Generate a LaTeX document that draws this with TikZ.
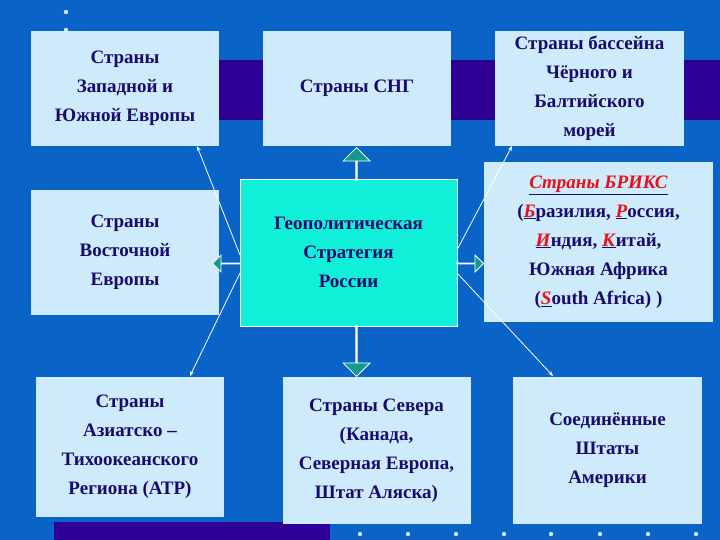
\documentclass[tikz,border=0pt]{standalone}
\usepackage{fontspec}
\setmainfont{Liberation Serif}
\usetikzlibrary{arrows.meta,shapes.arrows}
\definecolor{bg}{HTML}{0A64C8}
\definecolor{band}{HTML}{2E0096}
\definecolor{boxc}{HTML}{CDEBFA}
\definecolor{txt}{HTML}{1A0A6B}
\definecolor{cen}{HTML}{10F0D8}
\definecolor{teal}{HTML}{139A8C}
\definecolor{rd}{HTML}{E8101A}
\newcommand{\R}[1]{\underline{\textcolor{rd}{\textit{#1}}}}
\begin{document}
\begin{tikzpicture}[x=1pt,y=-1pt,
  box/.style={fill=boxc,draw=none,font=\bfseries\fontsize{19}{29}\selectfont,text=txt,align=center,inner sep=0pt},
  thin/.style={white,line width=0.8pt,-{Stealth[length=5pt,width=4pt]}},
  fat/.style={fill=teal,draw=white,line width=0.8pt}]
\fill[bg] (0,0) rectangle (720,540);
\useasboundingbox (0,0) rectangle (720,540);
\fill[band] (219,60) rectangle (720,120);
\fill[band] (54,522) rectangle (330,540);
\foreach \y in {12,30} \fill[boxc] (66,\y) circle (2.2);
\foreach \x in {360,408,456,504,551,600,648,696} \fill[boxc] (\x,534) circle (2.2);
% boxes
\node[box,minimum width=188,minimum height=115] (we) at (125,88.5) {Страны\\Западной и\\Южной Европы};
\node[box,minimum width=188,minimum height=115] (cis) at (357,88.5) {Страны СНГ};
\node[box,minimum width=189,minimum height=115] (bb) at (589.5,88.5) {Страны бассейна\\Чёрного и\\Балтийского\\морей};
\node[box,minimum width=229,minimum height=160] (br) at (598.5,242) {\R{Страны БРИКС}\\(\R{Б}разилия, \R{Р}оссия,\\\R{И}ндия, \R{К}итай,\\Южная Африка\\(\R{S}outh Africa) )};
\node[box,minimum width=188,minimum height=125] (ee) at (125,252.5) {Страны\\Восточной\\Европы};
\node[box,fill=cen,draw=white,line width=0.6pt,minimum width=217,minimum height=147] (c) at (348.5,252.5) {Геополитическая\\Стратегия\\России};
\node[box,minimum width=188,minimum height=140] (apr) at (130,447) {Страны\\Азиатско –\\Тихоокеанского\\Региона (АТР)};
\node[box,minimum width=188,minimum height=147] (no) at (376.5,450.5) {Страны Севера\\(Канада,\\Северная Европа,\\Штат Аляска)};
\node[box,minimum width=189,minimum height=147] (us) at (607.5,450.5) {Соединённые\\Штаты\\Америки};
% fat arrows
\node[fat,single arrow,single arrow head extend=8pt,minimum height=33,minimum width=27,inner sep=0pt,shape border rotate=90,anchor=tip] (au) at (356.5,147) {};
\node[fat,single arrow,single arrow head extend=8pt,minimum height=51,minimum width=27,inner sep=0pt,shape border rotate=270,anchor=tip] (ad) at (356.5,377) {};
\node[fat,single arrow,single arrow head extend=8pt,minimum height=27,minimum width=17,inner sep=0pt,shape border rotate=180,anchor=tip] (al) at (212,263.5) {};
\node[fat,single arrow,single arrow head extend=8pt,minimum height=27,minimum width=17,inner sep=0pt,anchor=tip] (ar) at (484,263.5) {};
% thin arrows
\coordinate (c1) at (240,255); \coordinate (c2) at (240,273);
\coordinate (c3) at (457,250); \coordinate (c4) at (457,273);
\coordinate (t1) at (197,146); \coordinate (t2) at (190,376);
\coordinate (t3) at (512,146); \coordinate (t4) at (553,376);
\draw[thin] (c1) -- (t1);
\draw[thin] (c2) -- (t2);
\draw[thin] (c3) -- (t3);
\draw[thin] (c4) -- (t4);
\end{tikzpicture}
\end{document}
